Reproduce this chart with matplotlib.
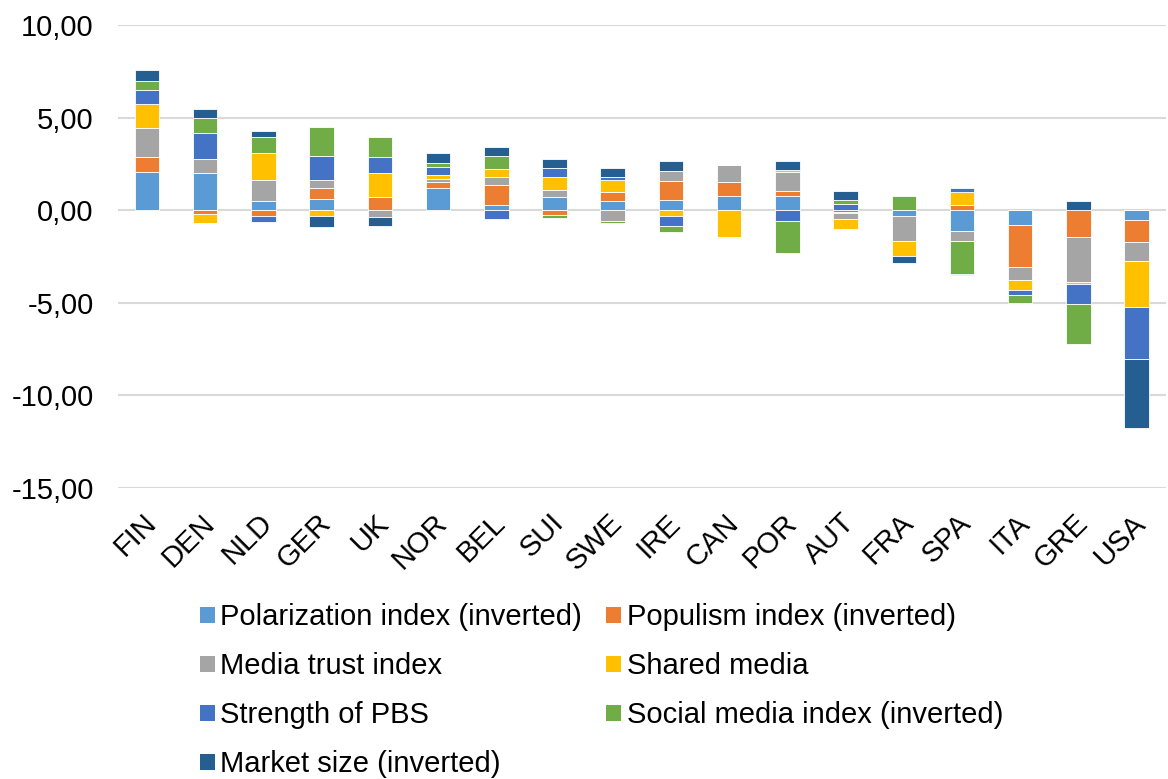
import matplotlib.pyplot as plt
import matplotlib.transforms as mtransforms
import numpy as np
from matplotlib.ticker import FuncFormatter
from matplotlib.patches import Patch

plt.rcParams['font.family'] = ['Liberation Sans', 'DejaVu Sans']

countries = ["FIN", "DEN", "NLD", "GER", "UK", "NOR", "BEL", "SUI", "SWE",
             "IRE", "CAN", "POR", "AUT", "FRA", "SPA", "ITA", "GRE", "USA"]

polarization = [2.07, 1.98, 0.49, 0.60, 0.00, 1.20, 0.29, 0.71, 0.49,
                0.56, 0.76, 0.76, -0.10, -0.29, -1.10, -0.80, 0.00, -0.53]
populism = [0.81, -0.23, -0.30, 0.60, 0.71, 0.33, 1.05, -0.27, 0.49,
            1.02, 0.76, 0.27, -0.05, 0.00, 0.29, -2.26, -1.46, -1.21]
media_trust = [1.54, 0.76, 1.16, 0.41, -0.35, 0.13, 0.45, 0.40, -0.60,
               0.51, 0.91, 1.04, -0.33, -1.38, -0.58, -0.69, -2.43, -0.98]
shared_media = [1.32, -0.45, 1.43, -0.30, 1.30, 0.24, 0.42, 0.68, 0.67,
                -0.33, -1.43, 0.09, -0.54, -0.80, 0.69, -0.56, -0.07, -2.52]
pbs = [0.76, 1.41, -0.35, 1.32, 0.87, 0.45, -0.45, 0.46, 0.14,
       -0.50, 0.00, -0.60, 0.33, 0.00, 0.20, -0.27, -1.12, -2.81]
social_media = [0.50, 0.80, 0.87, 1.58, 1.09, 0.18, 0.72, -0.13, -0.10,
                -0.36, -0.08, -1.70, 0.20, 0.76, -1.76, -0.45, -2.12, 0.00]
market_size = [0.54, 0.52, 0.33, -0.62, -0.50, 0.55, 0.46, 0.49, 0.46,
               0.54, 0.00, 0.47, 0.48, -0.36, -0.07, 0.00, 0.49, -3.73]

series = [
    ("Polarization index (inverted)", polarization, "#5B9BD5"),
    ("Populism index (inverted)", populism, "#ED7D31"),
    ("Media trust index", media_trust, "#A5A5A5"),
    ("Shared media", shared_media, "#FFC000"),
    ("Strength of PBS", pbs, "#4472C4"),
    ("Social media index (inverted)", social_media, "#70AD47"),
    ("Market size (inverted)", market_size, "#255E91"),
]

fig = plt.figure(figsize=(11.68, 7.79), dpi=100)
ax = fig.add_axes([0.101, 0.3735, 0.897, 0.5945])

x = np.arange(len(countries))
pos_base = np.zeros(len(countries))
neg_base = np.zeros(len(countries))
handles = []
for name, vals, col in series:
    v = np.array(vals)
    bottom = np.where(v >= 0, pos_base, neg_base)
    ax.bar(x, v, 0.42, bottom=bottom, color=col, edgecolor="white",
           linewidth=0.6, zorder=3)
    pos_base = pos_base + np.where(v > 0, v, 0)
    neg_base = neg_base + np.where(v < 0, v, 0)
    handles.append(Patch(facecolor=col, label=name))

ax.set_xlim(-0.5, len(countries) - 0.5)
ax.set_ylim(-15, 10)
ax.set_yticks([10, 5, 0, -5, -10, -15])
ax.yaxis.set_major_formatter(FuncFormatter(lambda v, p: f"{v:.2f}".replace(".", ",")))
ax.grid(axis="y", color="#D9D9D9", linewidth=1.5, zorder=0)
for s in ax.spines.values():
    s.set_visible(False)
ax.tick_params(axis="both", length=0, labelsize=21, colors="black")
ax.tick_params(axis="y", pad=17.5)
ax.set_xticks(x)
ax.set_xticklabels(countries, rotation=45, ha="right", va="center",
                   rotation_mode="anchor")
ax.tick_params(axis="x", pad=22)
shift = mtransforms.ScaledTranslation(5 / 100, 0, fig.dpi_scale_trans)
for lbl in ax.get_xticklabels():
    lbl.set_transform(lbl.get_transform() + shift)

# Excel fills legend row by row; matplotlib fills columns
order = [0, 2, 4, 6, 1, 3, 5]
fig.legend([handles[i] for i in order], [handles[i].get_label() for i in order],
           ncol=2, loc="upper left", bbox_to_anchor=(0.171, 0.2256),
           frameon=False, fontsize=21, handlelength=0.51, handleheight=0.51,
           handletextpad=0.2, columnspacing=0.82, labelspacing=0.72,
           borderpad=0, borderaxespad=0)

fig.savefig("out.png", dpi=100)
